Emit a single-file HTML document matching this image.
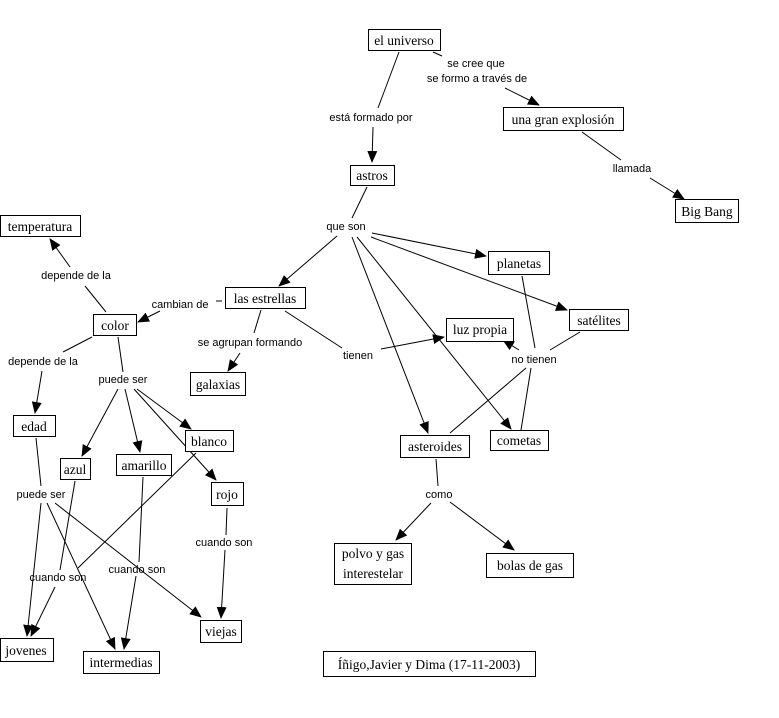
<!DOCTYPE html>
<html><head><meta charset="utf-8"><style>
html,body{margin:0;padding:0;background:#fff;width:779px;height:718px;overflow:hidden}
.n{font-family:"Liberation Serif",serif;font-size:13.5px;fill:#000}
.l{font-family:"Liberation Sans",sans-serif;font-size:11px;fill:#000}
rect{fill:#fff;stroke:#000;stroke-width:1}
line{stroke:#000;stroke-width:1}
</style></head><body>
<svg width="779" height="718" xmlns="http://www.w3.org/2000/svg">
<defs><marker id="a" markerWidth="12" markerHeight="12" refX="11" refY="5" orient="auto" markerUnits="userSpaceOnUse"><path d="M0,0 L12,5 L0,10 z" fill="#000"/></marker></defs>
<g>
<line x1="399" y1="52" x2="378" y2="108"/>
<line x1="373" y1="127" x2="372" y2="162" marker-end="url(#a)"/>
<line x1="433" y1="52" x2="442" y2="56"/>
<line x1="505" y1="88" x2="539" y2="105" marker-end="url(#a)"/>
<line x1="582" y1="132" x2="621" y2="160"/>
<line x1="650" y1="178" x2="684" y2="199" marker-end="url(#a)"/>
<line x1="367" y1="187" x2="352" y2="218"/>
<line x1="337" y1="236" x2="279" y2="286" marker-end="url(#a)"/>
<line x1="372" y1="233" x2="486" y2="256" marker-end="url(#a)"/>
<line x1="371" y1="237" x2="567" y2="310" marker-end="url(#a)"/>
<line x1="352" y1="237" x2="428" y2="433" marker-end="url(#a)"/>
<line x1="357" y1="237" x2="511" y2="429" marker-end="url(#a)"/>
<line x1="222" y1="301" x2="216" y2="301"/>
<line x1="160" y1="311" x2="138" y2="322" marker-end="url(#a)"/>
<line x1="261" y1="310" x2="254" y2="333"/>
<line x1="240" y1="353" x2="228" y2="371" marker-end="url(#a)"/>
<line x1="285" y1="311" x2="342" y2="348"/>
<line x1="381" y1="349" x2="444" y2="337" marker-end="url(#a)"/>
<line x1="522" y1="276" x2="535" y2="348"/>
<line x1="580" y1="332" x2="550" y2="350"/>
<line x1="450" y1="433" x2="526" y2="368"/>
<line x1="521" y1="430" x2="531" y2="368"/>
<line x1="519" y1="350" x2="503" y2="340" marker-end="url(#a)"/>
<line x1="106" y1="312" x2="85" y2="286"/>
<line x1="70" y1="267" x2="50" y2="239" marker-end="url(#a)"/>
<line x1="92" y1="337" x2="63" y2="352"/>
<line x1="42" y1="371" x2="35" y2="413" marker-end="url(#a)"/>
<line x1="118" y1="337" x2="123" y2="372"/>
<line x1="118" y1="389" x2="82" y2="456" marker-end="url(#a)"/>
<line x1="125" y1="389" x2="140" y2="452" marker-end="url(#a)"/>
<line x1="137" y1="389" x2="191" y2="429" marker-end="url(#a)"/>
<line x1="134" y1="389" x2="216" y2="480" marker-end="url(#a)"/>
<line x1="36" y1="438" x2="41" y2="486"/>
<line x1="41" y1="503" x2="27" y2="636" marker-end="url(#a)"/>
<line x1="47" y1="503" x2="115" y2="649" marker-end="url(#a)"/>
<line x1="55" y1="503" x2="201" y2="617" marker-end="url(#a)"/>
<line x1="75" y1="481" x2="60" y2="570"/>
<line x1="55" y1="587" x2="31" y2="636" marker-end="url(#a)"/>
<line x1="196" y1="453" x2="78" y2="568"/>
<line x1="143" y1="477" x2="139" y2="562"/>
<line x1="136" y1="576" x2="124" y2="649" marker-end="url(#a)"/>
<line x1="227" y1="508" x2="226" y2="535"/>
<line x1="225" y1="550" x2="221" y2="618" marker-end="url(#a)"/>
<line x1="436" y1="459" x2="438" y2="486"/>
<line x1="431" y1="503" x2="396" y2="540" marker-end="url(#a)"/>
<line x1="450" y1="502" x2="514" y2="550" marker-end="url(#a)"/>
</g>
<g>
<rect x="368.5" y="29.5" width="72" height="21"/><text class="n" x="404" y="45" text-anchor="middle">el universo</text>
<rect x="503.5" y="107.5" width="120" height="23"/><text class="n" x="563" y="124" text-anchor="middle">una gran explosión</text>
<rect x="675.5" y="199.5" width="63" height="23"/><text class="n" x="707" y="216" text-anchor="middle">Big Bang</text>
<rect x="350.5" y="165.5" width="44" height="20"/><text class="n" x="372" y="180" text-anchor="middle">astros</text>
<rect x="488.5" y="251.5" width="61" height="23"/><text class="n" x="519" y="268" text-anchor="middle">planetas</text>
<rect x="569.5" y="309.5" width="59" height="21"/><text class="n" x="599" y="325" text-anchor="middle">satélites</text>
<rect x="446.5" y="318.5" width="67" height="23"/><text class="n" x="480" y="334" text-anchor="middle">luz propia</text>
<rect x="400.5" y="435.5" width="69" height="22"/><text class="n" x="435" y="451" text-anchor="middle">asteroides</text>
<rect x="490.5" y="430.5" width="58" height="20"/><text class="n" x="519" y="445" text-anchor="middle">cometas</text>
<rect x="225.5" y="287.5" width="80" height="21"/><text class="n" x="265" y="303" text-anchor="middle">las estrellas</text>
<rect x="0.5" y="215.5" width="80" height="21"/><text class="n" x="40" y="231" text-anchor="middle">temperatura</text>
<rect x="93.5" y="314.5" width="43" height="21"/><text class="n" x="115" y="330" text-anchor="middle">color</text>
<rect x="190.5" y="372.5" width="55" height="23"/><text class="n" x="218" y="389" text-anchor="middle">galaxias</text>
<rect x="13.5" y="415.5" width="42" height="21"/><text class="n" x="34" y="431" text-anchor="middle">edad</text>
<rect x="60.5" y="458.5" width="30" height="21"/><text class="n" x="75" y="474" text-anchor="middle">azul</text>
<rect x="116.5" y="454.5" width="55" height="21"/><text class="n" x="144" y="470" text-anchor="middle">amarillo</text>
<rect x="185.5" y="430.5" width="48" height="21"/><text class="n" x="209" y="446" text-anchor="middle">blanco</text>
<rect x="211.5" y="482.5" width="32" height="23"/><text class="n" x="227" y="499" text-anchor="middle">rojo</text>
<rect x="200.5" y="620.5" width="41" height="22"/><text class="n" x="221" y="636" text-anchor="middle">viejas</text>
<rect x="0.5" y="638.5" width="53" height="23"/><text class="n" x="26" y="655" text-anchor="middle">jovenes</text>
<rect x="83.5" y="651.5" width="76" height="22"/><text class="n" x="121" y="667" text-anchor="middle">intermedias</text>
<rect x="334.5" y="543.5" width="77" height="41"/><text class="n" x="373" y="558" text-anchor="middle">polvo y gas</text><text class="n" x="373" y="578" text-anchor="middle">interestelar</text>
<rect x="486.5" y="553.5" width="87" height="24"/><text class="n" x="530" y="570" text-anchor="middle">bolas de gas</text>
<rect x="323.5" y="651.5" width="212" height="25"/><text class="n" x="429" y="669" text-anchor="middle">Íñigo,Javier y Dima (17-11-2003)</text>
</g>
<g class="l">
<text class="l" x="476" y="67" text-anchor="middle">se cree que</text>
<text class="l" x="477" y="82" text-anchor="middle">se formo a través de</text>
<text class="l" x="371" y="121" text-anchor="middle">está formado por</text>
<text class="l" x="632" y="172" text-anchor="middle">llamada</text>
<text class="l" x="346" y="230" text-anchor="middle">que son</text>
<text class="l" x="180" y="308" text-anchor="middle">cambian de</text>
<text class="l" x="76" y="279" text-anchor="middle">depende de la</text>
<text class="l" x="43" y="365" text-anchor="middle">depende de la</text>
<text class="l" x="250" y="346" text-anchor="middle">se agrupan formando</text>
<text class="l" x="358" y="359" text-anchor="middle">tienen</text>
<text class="l" x="534" y="363" text-anchor="middle">no tienen</text>
<text class="l" x="123" y="383" text-anchor="middle">puede ser</text>
<text class="l" x="41" y="498" text-anchor="middle">puede ser</text>
<text class="l" x="58" y="581" text-anchor="middle">cuando son</text>
<text class="l" x="137" y="573" text-anchor="middle">cuando son</text>
<text class="l" x="224" y="546" text-anchor="middle">cuando son</text>
<text class="l" x="439" y="498" text-anchor="middle">como</text>
</g>
</svg>
</body></html>
